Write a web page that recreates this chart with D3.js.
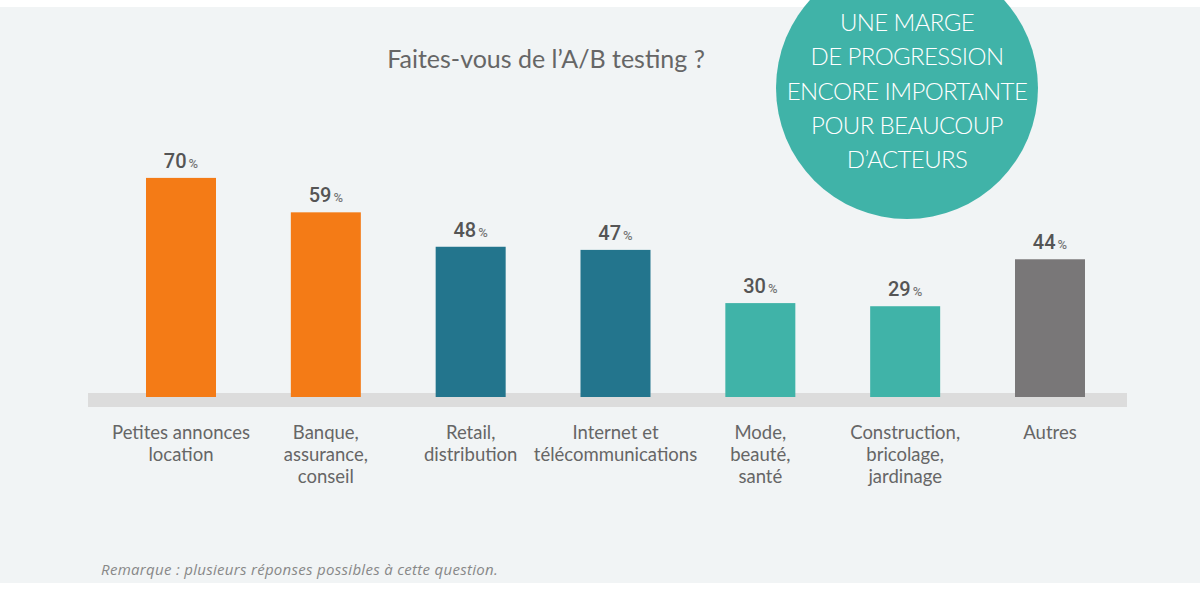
<!DOCTYPE html>
<html><head><meta charset="utf-8">
<script src="https://cdn.jsdelivr.net/npm/d3@7"></script>
<style>
html,body{margin:0;padding:0;background:#fff;}
svg{display:block;}
</style></head>
<body>
<svg id="chart" width="1200" height="591"></svg>
<script>
// ---- data ----
const categories = ["Petites annonces\nlocation","Banque,\nassurance,\nconseil","Retail,\ndistribution","Internet et\ntélécommunications","Mode,\nbeauté,\nsanté","Construction,\nbricolage,\njardinage","Autres"];
const values = [70, 59, 48, 47, 30, 29, 44];
const groups = ["petites","banque","web","web","mode","mode","autres"];
const groupKeys = ["petites","banque","web","mode","autres"];
const groupColors = ["#f47b16","#f47b16","#23758d","#40b3a8","#797778"];
const titleText = "Faites-vous de l\u2019A/B testing ?";
const bubbleLines = ["UNE MARGE","DE PROGRESSION","ENCORE IMPORTANTE","POUR BEAUCOUP","D\u2019ACTEURS"];
const noteText = "Remarque : plusieurs réponses possibles à cette question.";

// ---- layout ----
const svg = d3.select("#chart");
const W = 1200;
svg.append("rect").attr("x",0).attr("y",7).attr("width",W).attr("height",576).attr("fill","#f1f4f5");

const x = d3.scalePoint().domain(categories).range([181, 1050]);
const y = d3.scaleLinear().domain([0, 100]).range([397, 84]);
const color = d3.scaleOrdinal().domain(groupKeys).range(groupColors);
const barW = 70;

// baseline band
svg.append("rect").attr("x",88).attr("y",393).attr("width",1127-88).attr("height",14).attr("fill","#dcdcdc");

// bars
svg.append("g").selectAll("rect").data(values).join("rect")
  .attr("x",(d,i)=>x(categories[i]) - barW/2)
  .attr("y",d=>y(d))
  .attr("width",barW)
  .attr("height",d=>y(0)-y(d))
  .attr("fill",(d,i)=>color(groups[i]));

// value labels
const vl = svg.append("g").selectAll("text").data(values).join("text")
  .attr("x",(d,i)=>x(categories[i]))
  .attr("y",d=>y(d)-10)
  .attr("text-anchor","middle")
  .attr("font-family","Roboto, sans-serif")
  .attr("font-weight",500)
  .attr("font-size",20)
  .attr("fill","#555");
vl.append("tspan").text(d=>d);
vl.append("tspan").attr("dx",2).attr("font-size",13).attr("fill","#777").text("%");

// category labels
const cl = svg.append("g").selectAll("text").data(categories).join("text")
  .attr("x",d=>x(d))
  .attr("y",439)
  .attr("text-anchor","middle")
  .attr("font-family","Lato, sans-serif")
  .attr("font-size",18.5)
  .attr("fill","#666");
cl.selectAll("tspan").data(d=>d.split("\n").map(s=>({s, c:d}))).join("tspan")
  .attr("x",d=>x(d.c))
  .attr("dy",(d,i)=>i===0?0:22)
  .text(d=>d.s);

// title
svg.append("text").attr("x",546).attr("y",68).attr("text-anchor","middle")
  .attr("font-family","Lato, sans-serif").attr("font-size",25).attr("fill","#666")
  .text(titleText);

// bubble
svg.append("circle").attr("cx",907).attr("cy",88).attr("r",131).attr("fill","#40b3a8");
svg.append("g").selectAll("text").data(bubbleLines).join("text")
  .attr("x",907).attr("y",(d,i)=>31 + i*34.3)
  .attr("text-anchor","middle")
  .attr("font-family","Lato, sans-serif").attr("font-weight",300)
  .attr("font-size",24).attr("letter-spacing",-0.6).attr("fill","#fff")
  .text(d=>d);

// note
svg.append("text").attr("x",101).attr("y",575)
  .attr("font-family","'Open Sans', sans-serif").attr("font-style","italic")
  .attr("font-size",15).attr("letter-spacing",0.3).attr("fill","#888")
  .text(noteText);
</script>
</body></html>
